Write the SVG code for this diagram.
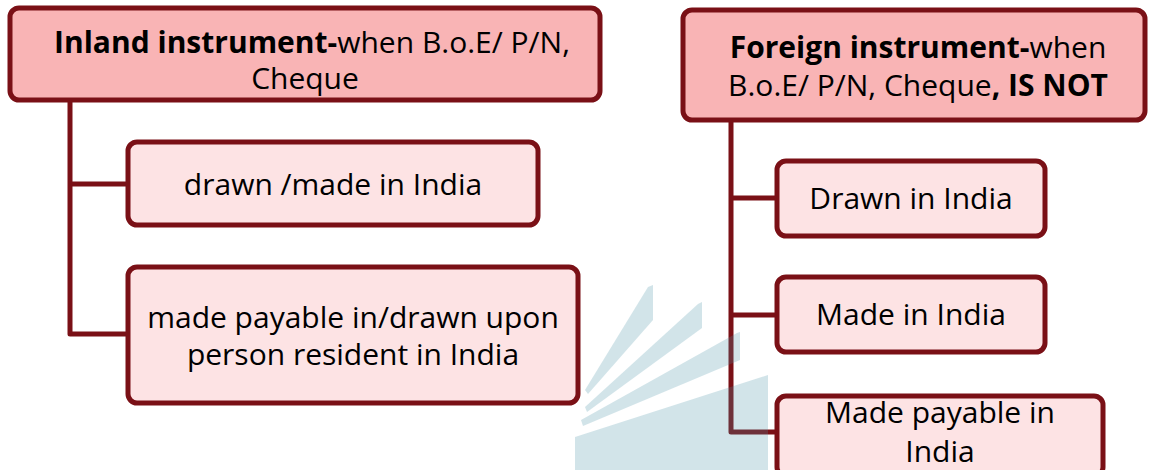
<svg xmlns="http://www.w3.org/2000/svg" width="1152" height="470" viewBox="0 0 1152 470">
<style>
.head{fill:#f9b4b5;stroke:#7a1016;stroke-width:5}
.child{fill:#fde3e4;stroke:#7a1016;stroke-width:5}
.conn{fill:none;stroke:#7a1016;stroke-width:5;stroke-linejoin:round}
text{font-family:"Open Sans","Noto Sans","DejaVu Sans",sans-serif;font-size:30px;fill:#000;text-anchor:middle}
.b{font-weight:bold}
.wm{fill:#4d94a8;opacity:0.25}
</style>
<rect width="1152" height="470" fill="#fff"/>
<g id="connectors">
<path class="conn" d="M70 100 V334 H128 M70 184 H128"/>
<path class="conn" d="M731 120 V432 H777 M731 198 H777 M731 315 H777"/>
</g>
<g id="inland">
<rect class="head" x="10" y="8" width="590" height="92" rx="9"/>
<text x="312" y="53"><tspan class="b">Inland instrument-</tspan>when B.o.E/ P/N,</text>
<text x="305" y="89">Cheque</text>
</g>
<g id="inland-1">
<rect class="child" x="128" y="142" width="410" height="83" rx="9"/>
<text x="333" y="195">drawn /made in India</text>
</g>
<g id="inland-2">
<rect class="child" x="128" y="267" width="450" height="136" rx="9"/>
<text x="353" y="328">made payable in/drawn upon</text>
<text x="353" y="365">person resident in India</text>
</g>
<g id="foreign">
<rect class="head" x="683" y="10" width="462" height="110" rx="9"/>
<text x="918" y="58"><tspan class="b">Foreign instrument-</tspan>when</text>
<text x="918" y="96">B.o.E/ P/N, Cheque<tspan class="b">, IS NOT</tspan></text>
</g>
<g id="foreign-1">
<rect class="child" x="777" y="161" width="268" height="75" rx="9"/>
<text x="911" y="209">Drawn in India</text>
</g>
<g id="foreign-2">
<rect class="child" x="777" y="277" width="268" height="75" rx="9"/>
<text x="911" y="325">Made in India</text>
</g>
<g id="foreign-3">
<rect class="child" x="777" y="396" width="326" height="80" rx="9"/>
<text x="940" y="423">Made payable in</text>
<text x="940" y="462">India</text>
</g>
<g id="watermark">
<polygon class="wm" points="648,287 653,285 653,320 588,394 585,390"/>
<polygon class="wm" points="698,304 702,302 702,328 587,412 585,407"/>
<polygon class="wm" points="737,333 740,332 740,360 583,426 581,420"/>
<polygon class="wm" points="575,437 768,375 768,470 575,470"/>
</g>
</svg>
